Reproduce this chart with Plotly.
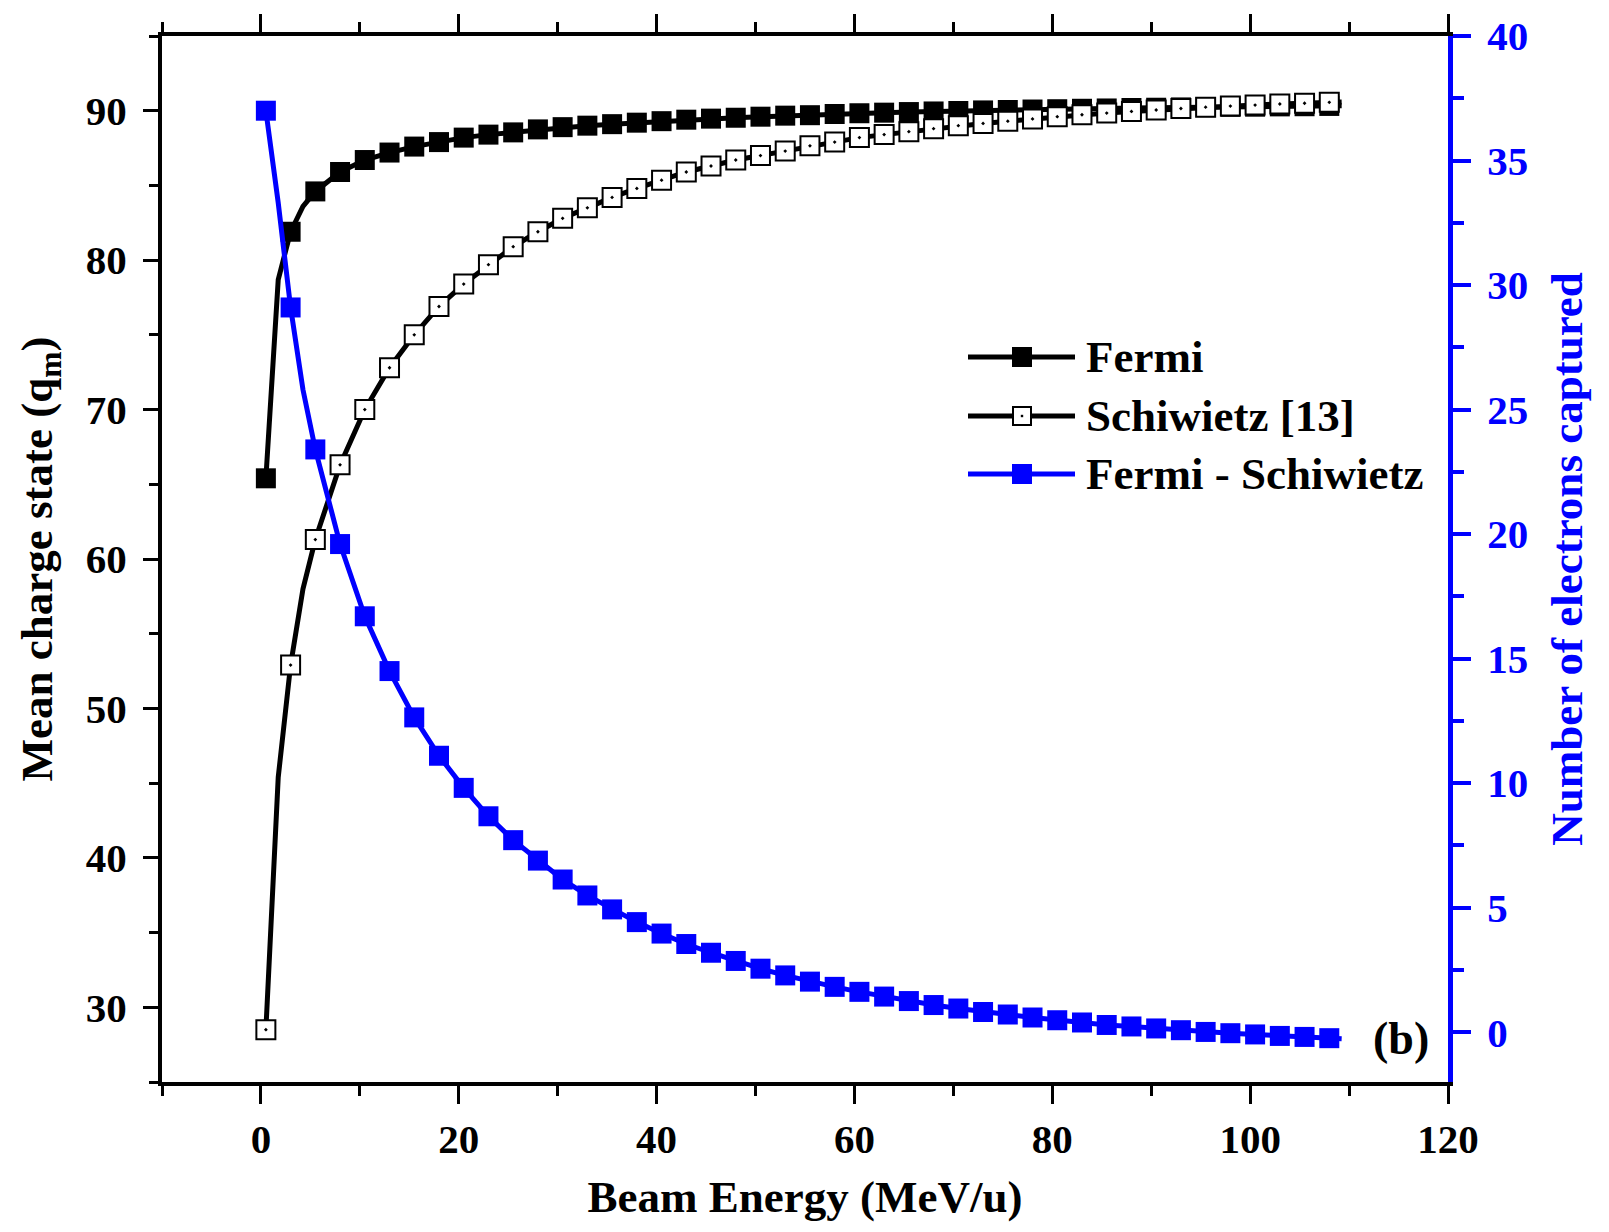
import plotly.graph_objects as go

# ---------------- data ----------------
energy = [0.5, 3, 5.5, 8, 10.5, 13, 15.5, 18, 20.5, 23, 25.5, 28, 30.5, 33, 35.5,
          38, 40.5, 43, 45.5, 48, 50.5, 53, 55.5, 58, 60.5, 63, 65.5, 68, 70.5,
          73, 75.5, 78, 80.5, 83, 85.5, 88, 90.5, 93, 95.5, 98, 100.5, 103, 105.5, 108]

fermi = [65.4, 81.9, 84.6, 85.9, 86.7, 87.2, 87.6, 87.9, 88.2, 88.4, 88.55, 88.75,
         88.9, 89.0, 89.1, 89.2, 89.3, 89.4, 89.47, 89.53, 89.6, 89.67, 89.7, 89.78,
         89.83, 89.87, 89.91, 89.95, 89.98, 90.02, 90.05, 90.08, 90.1, 90.13, 90.15,
         90.18, 90.2, 90.22, 90.24, 90.26, 90.27, 90.29, 90.3, 90.32]

schiwietz = [28.5, 52.9, 61.3, 66.3, 70.0, 72.8, 75.0, 76.9, 78.4, 79.7, 80.9, 81.9,
             82.8, 83.5, 84.2, 84.8, 85.35, 85.9, 86.3, 86.7, 87.0, 87.3, 87.65, 87.9,
             88.2, 88.4, 88.6, 88.8, 89.0, 89.15, 89.3, 89.45, 89.6, 89.73, 89.84,
             89.95, 90.05, 90.15, 90.24, 90.31, 90.38, 90.45, 90.5, 90.56]

difference = [37.0, 29.1, 23.4, 19.6, 16.7, 14.5, 12.64, 11.1, 9.81, 8.67, 7.71, 6.89,
              6.13, 5.49, 4.93, 4.42, 3.96, 3.54, 3.19, 2.86, 2.55, 2.28, 2.03, 1.82,
              1.62, 1.43, 1.25, 1.09, 0.95, 0.81, 0.71, 0.59, 0.48, 0.39, 0.29, 0.23,
              0.15, 0.08, 0.01, -0.04, -0.09, -0.15, -0.19, -0.24]

# extra line-only points (symbols skipped in the original plot)
extra_energy = [1.75, 4.25, 109.25]
fermi_extra = [78.7, 83.6, 90.33]
schiwietz_extra = [45.4, 58.0, 90.58]
difference_extra = [33.3, 25.8, -0.26]

x_tick_vals = [0, 20, 40, 60, 80, 100, 120]
left_tick_vals = [30, 40, 50, 60, 70, 80, 90]
right_tick_vals = [0, 5, 10, 15, 20, 25, 30, 35, 40]

legend_names = ["Fermi", "Schiwietz [13]", "Fermi - Schiwietz"]

# ---------------- styling ----------------
FONT = "Liberation Serif"
BLUE = "#0000FF"
W, H = 1609, 1232
L, R, T, B = 162, 161, 36, 150
PW, PH = W - L - R, H - T - B


def merged(xm, ym, xe, ye):
    pts = sorted(zip(list(xm) + list(xe), list(ym) + list(ye)))
    return [p[0] for p in pts], [p[1] for p in pts]


fig = go.Figure()

fx, fy = merged(energy, fermi, extra_energy, fermi_extra)
sx, sy = merged(energy, schiwietz, extra_energy, schiwietz_extra)
dx, dy = merged(energy, difference, extra_energy, difference_extra)

fig.add_trace(go.Scatter(x=fx, y=fy, mode="lines", line=dict(color="black", width=5),
                         name=legend_names[0], showlegend=False, hoverinfo="skip"))
fig.add_trace(go.Scatter(x=energy, y=fermi, mode="markers", name=legend_names[0],
                         marker=dict(symbol="square", size=20, color="black"),
                         showlegend=False))
fig.add_trace(go.Scatter(x=sx, y=sy, mode="lines", line=dict(color="black", width=5),
                         name=legend_names[1], showlegend=False, hoverinfo="skip"))
fig.add_trace(go.Scatter(x=energy, y=schiwietz, mode="markers", name=legend_names[1],
                         marker=dict(symbol="square-dot", size=19, color="white",
                                     line=dict(color="black", width=2)),
                         showlegend=False))
fig.add_trace(go.Scatter(x=dx, y=dy, mode="lines", line=dict(color=BLUE, width=5),
                         name=legend_names[2], showlegend=False, hoverinfo="skip",
                         yaxis="y2"))
fig.add_trace(go.Scatter(x=energy, y=difference, mode="markers", name=legend_names[2],
                         marker=dict(symbol="square", size=20, color=BLUE),
                         showlegend=False, yaxis="y2"))


def px2paper(xpix, ypix):
    return (xpix - L) / PW, (H - B - ypix) / PH


# ---------------- manual legend (Origin style) ----------------
shapes = []
annotations = []
rows = [(357, "black", "filled"), (416, "black", "open"), (474, BLUE, "filled")]
for (ypix, col, kind), name in zip(rows, legend_names):
    x0, y0 = px2paper(968, ypix)
    x1, _ = px2paper(1075, ypix)
    shapes.append(dict(type="line", xref="paper", yref="paper", x0=x0, x1=x1, y0=y0, y1=y0,
                       line=dict(color=col, width=5)))
    cx = 1022
    ax0, ay0 = px2paper(cx - 10, ypix - 10)
    ax1, ay1 = px2paper(cx + 10, ypix + 10)
    if kind == "filled":
        shapes.append(dict(type="rect", xref="paper", yref="paper", x0=ax0, x1=ax1,
                           y0=ay1, y1=ay0, fillcolor=col, line=dict(color=col, width=0)))
    else:
        bx0, by0 = px2paper(cx - 9, ypix - 9)
        bx1, by1 = px2paper(cx + 9, ypix + 9)
        shapes.append(dict(type="rect", xref="paper", yref="paper", x0=bx0, x1=bx1,
                           y0=by1, y1=by0, fillcolor="white", line=dict(color="black", width=2)))
        dx0, dy0 = px2paper(cx - 1.2, ypix - 1.2)
        dx1, dy1 = px2paper(cx + 1.2, ypix + 1.2)
        shapes.append(dict(type="rect", xref="paper", yref="paper", x0=dx0, x1=dx1,
                           y0=dy1, y1=dy0, fillcolor="black", line=dict(color="black", width=0)))
    tx, ty = px2paper(1084, ypix)
    annotations.append(dict(xref="paper", yref="paper", x=tx, y=ty, xanchor="left",
                            yanchor="middle", text="<b>%s</b>" % name, showarrow=False,
                            font=dict(family=FONT, size=45, color="black")))

bx, by = px2paper(1401, 1038)
annotations.append(dict(xref="paper", yref="paper", x=bx, y=by, xanchor="center",
                        yanchor="middle", text="<b>(b)</b>", showarrow=False,
                        font=dict(family=FONT, size=46, color="black")))

tickfont = dict(family=FONT, size=41, color="black", weight="bold")

fig.update_layout(
    width=W, height=H,
    margin=dict(l=L, r=R, t=T, b=B, pad=0),
    paper_bgcolor="white", plot_bgcolor="white",
    showlegend=False,
    shapes=shapes,
    annotations=annotations,
    xaxis=dict(
        range=[-10, 120], tickvals=x_tick_vals, ticks="outside", ticklen=18, tickwidth=3,
        tickcolor="black", showline=True, linewidth=4, linecolor="black", mirror="ticks",
        minor=dict(tickvals=[-10, 10, 30, 50, 70, 90, 110], ticks="outside", ticklen=10,
                   tickwidth=3, tickcolor="black"),
        showgrid=False, zeroline=False, tickfont=tickfont, ticklabelstandoff=0,
        title=dict(text="<b>Beam Energy (MeV/u)</b>", font=dict(family=FONT, size=45, color="black"),
                   standoff=20),
    ),
    yaxis=dict(
        range=[25, 95], tickvals=left_tick_vals, ticks="outside", ticklen=15, tickwidth=3,
        tickcolor="black", showline=True, linewidth=4, linecolor="black", mirror=False,
        minor=dict(tickvals=[25, 35, 45, 55, 65, 75, 85, 95], ticks="outside", ticklen=9,
                   tickwidth=3, tickcolor="black"),
        showgrid=False, zeroline=False, tickfont=tickfont, ticklabelstandoff=8,
        title=dict(text="<b>Mean charge state (q<sub>m</sub>)</b>",
                   font=dict(family=FONT, size=45, color="black"), standoff=20),
    ),
    yaxis2=dict(
        overlaying="y", side="right", anchor="x",
        range=[-2, 40], tickvals=right_tick_vals, ticks="outside", ticklen=18, tickwidth=4,
        tickcolor=BLUE, showline=True, linewidth=5, linecolor=BLUE,
        minor=dict(tickvals=[2.5, 7.5, 12.5, 17.5, 22.5, 27.5, 32.5, 37.5], ticks="outside",
                   ticklen=11, tickwidth=4, tickcolor=BLUE),
        showgrid=False, zeroline=False,
        tickfont=dict(family=FONT, size=41, color=BLUE, weight="bold"), ticklabelstandoff=8,
        title=dict(text="<b>Number of electrons captured</b>",
                   font=dict(family=FONT, size=45, color=BLUE), standoff=25),
    ),
)

fig.write_html("out.html")
